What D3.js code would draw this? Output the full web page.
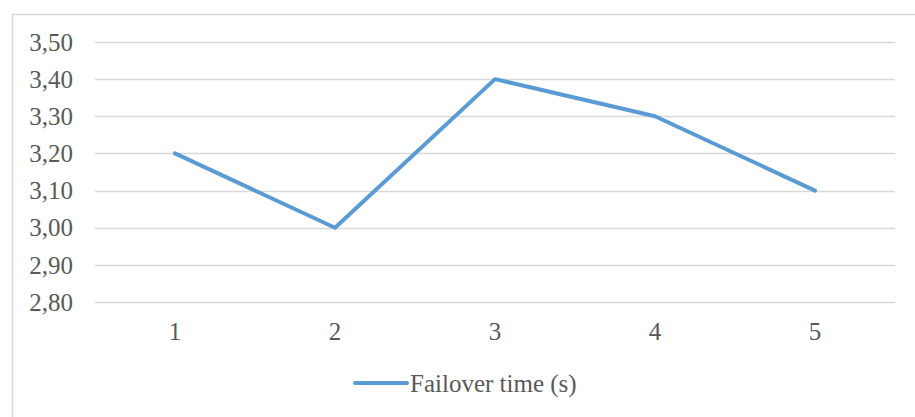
<!DOCTYPE html>
<html><head><meta charset="utf-8">
<script src="https://cdn.jsdelivr.net/npm/d3@7"></script>
<style>body{margin:0;background:#fff}svg{display:block}</style>
</head><body>
<svg id="c" width="915" height="417"></svg>
<script>
const categories = ["1","2","3","4","5"];
const values = [3.20, 3.00, 3.40, 3.30, 3.10];
const yTicks = [2.80, 2.90, 3.00, 3.10, 3.20, 3.30, 3.40, 3.50];
const seriesName = "Failover time (s)";

const svg = d3.select("#c");
const font = "'Liberation Serif','Times New Roman',serif";
svg.append("rect").attr("x",12.5).attr("y",14.5).attr("width",920).attr("height",420)
  .attr("fill","#fff").attr("stroke","#d9d9d9").attr("stroke-width",1.5);

const x = d3.scaleBand().domain(categories).range([95,895]);
const y = d3.scaleLinear().domain([2.8,3.5]).range([302,42]);

const fmt = v => d3.format(".2f")(v).replace(".", ",");
const g = svg.append("g");
g.selectAll("line.grid").data(yTicks).join("line")
  .attr("x1",95).attr("x2",895).attr("y1",d=>Math.round(y(d))+0.5).attr("y2",d=>Math.round(y(d))+0.5)
  .attr("stroke","#d9d9d9").attr("stroke-width",1.3);
g.selectAll("text.yl").data(yTicks).join("text")
  .attr("x",73).attr("y",d=>y(d)).attr("dy","0.35em").attr("text-anchor","end")
  .attr("font-family",font).attr("font-size",25).attr("fill","#595959").text(fmt);
g.selectAll("text.xl").data(categories).join("text")
  .attr("x",d=>x(d)+x.bandwidth()/2).attr("y",331).attr("dy","0.35em").attr("text-anchor","middle")
  .attr("font-family",font).attr("font-size",25).attr("fill","#595959").text(d=>d);

const line = d3.line().x((d,i)=>x(categories[i])+x.bandwidth()/2).y(d=>y(d));
svg.append("path").datum(values).attr("d",line).attr("fill","none")
  .attr("stroke","#5b9bd5").attr("stroke-width",4).attr("stroke-linejoin","round").attr("stroke-linecap","round");

svg.append("line").attr("x1",355).attr("x2",407).attr("y1",383).attr("y2",383)
  .attr("stroke","#5b9bd5").attr("stroke-width",4).attr("stroke-linecap","round");
svg.append("text").attr("x",410).attr("y",383).attr("dy","0.35em")
  .attr("font-family",font).attr("font-size",25).attr("fill","#595959").text(seriesName);
</script>
</body></html>
